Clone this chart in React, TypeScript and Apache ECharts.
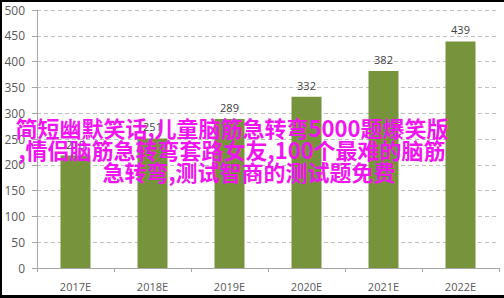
import React, { useEffect, useRef } from "react";
import * as echarts from "echarts";

const categories = ["2017E", "2018E", "2019E", "2020E", "2021E", "2022E"];
const values = [218, 251, 289, 332, 382, 439];
const overlayLines = [
  "简短幽默笑话,儿童脑筋急转弯5000题爆笑版",
  ",情侣脑筋急转弯套路女友,100个最难的脑筋",
  "急转弯,测试智商的测试题免费",
];

export default function App() {
  const ref = useRef<HTMLDivElement>(null);
  useEffect(() => {
    const chart = echarts.init(ref.current!, null, { renderer: "svg" });
    chart.setOption({
      animation: false,
      backgroundColor: "#ffffff",
      grid: { left: 37, right: 5, top: 10, bottom: 30 },
      xAxis: {
        type: "category",
        data: categories,
        axisLine: { lineStyle: { color: "#a6a6a6", width: 1 } },
        axisTick: { show: true, length: 4, lineStyle: { color: "#a6a6a6" } },
        axisLabel: {
          color: "#595959",
          fontSize: 11,
          margin: 13,
          fontFamily: "Open Sans, sans-serif",
        },
      },
      yAxis: {
        type: "value",
        min: 0,
        max: 500,
        interval: 50,
        axisLine: { show: true, lineStyle: { color: "#a6a6a6", width: 1 } },
        axisTick: { show: true, length: 5, lineStyle: { color: "#a6a6a6" } },
        axisLabel: {
          color: "#595959",
          fontSize: 12,
          margin: 12,
          fontFamily: "Open Sans, sans-serif",
        },
        splitLine: {
          show: true,
          lineStyle: { color: "#bfbfbf", type: [4, 3], width: 1 },
        },
      },
      series: [
        {
          type: "bar",
          data: values,
          barWidth: 30,
          itemStyle: { color: "#77933c" },
          label: {
            show: true,
            position: "top",
            color: "#404040",
            fontSize: 11,
            distance: 6,
            fontFamily: "Open Sans, sans-serif",
          },
        },
      ],
      graphic: [
        { type: "rect", z: 100, shape: { x: 0, y: 0, width: 504, height: 2 }, style: { fill: "#000" } },
        { type: "rect", z: 100, shape: { x: 0, y: 0, width: 2, height: 298 }, style: { fill: "#000" } },
        { type: "rect", z: 100, shape: { x: 0, y: 295, width: 504, height: 3 }, style: { fill: "#000" } },
        ...overlayLines.map((t, i) => ({
          type: "text",
          z: 100,
          x: i === 2 ? 249 : 232,
          y: 116 + i * 22,
          style: {
            text: t,
            fill: "#f014f0",
            font: 'bold 22px "Noto Sans CJK SC", sans-serif',
            textAlign: "center",
            textVerticalAlign: "top",
          },
        })),
      ],
    });
    return () => chart.dispose();
  }, []);
  return (
    <div
      ref={ref}
      style={{ position: "fixed", left: 0, top: 0, width: 504, height: 298 }}
    />
  );
}
